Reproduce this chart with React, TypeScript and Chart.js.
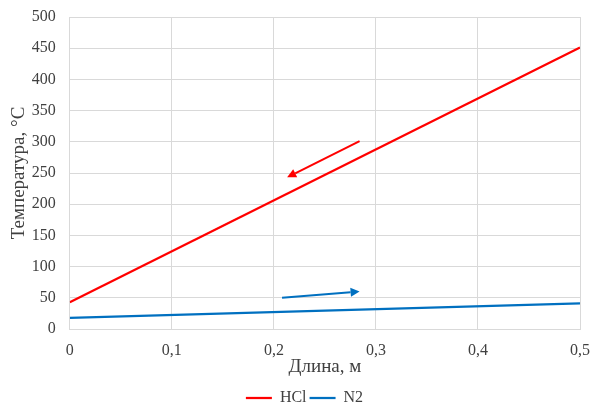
import React, { useEffect, useRef } from "react";
import { Chart, registerables } from "chart.js";

Chart.register(...registerables);

const xValues = [0, 0.5];
const hclValues = [43, 451];
const n2Values = [18, 41];
const seriesNames = ["HCl", "N2"];
const xTickLabelsDecimalSep = ",";
// arrows: [x1, y1, x2, y2] from tail to head, in data units
const hclArrow = [0.284, 301, 0.213, 243];
const n2Arrow = [0.208, 50, 0.284, 60];

const RED = "#ff0000";
const BLUE = "#0070c0";
const TXT = "#404040";
const FONT = "'Liberation Serif', 'Times New Roman', serif";

const arrowPlugin = {
  id: "arrows",
  afterDatasetsDraw(chart: any) {
    const { ctx, scales } = chart;
    const xs = scales.x;
    const ys = scales.y;
    const draw = (a: number[], color: string) => {
      const x1 = xs.getPixelForValue(a[0]);
      const y1 = ys.getPixelForValue(a[1]);
      const x2 = xs.getPixelForValue(a[2]);
      const y2 = ys.getPixelForValue(a[3]);
      const ang = Math.atan2(y2 - y1, x2 - x1);
      const hl = 9;
      const hw = 4.5;
      const bx = x2 - hl * Math.cos(ang);
      const by = y2 - hl * Math.sin(ang);
      ctx.save();
      ctx.strokeStyle = color;
      ctx.fillStyle = color;
      ctx.lineWidth = 2;
      ctx.beginPath();
      ctx.moveTo(x1, y1);
      ctx.lineTo(bx, by);
      ctx.stroke();
      ctx.beginPath();
      ctx.moveTo(x2, y2);
      ctx.lineTo(bx + hw * Math.sin(ang), by - hw * Math.cos(ang));
      ctx.lineTo(bx - hw * Math.sin(ang), by + hw * Math.cos(ang));
      ctx.closePath();
      ctx.fill();
      ctx.restore();
    };
    draw(hclArrow, RED);
    draw(n2Arrow, BLUE);
  },
};

export default function App() {
  const ref = useRef<HTMLCanvasElement>(null);
  useEffect(() => {
    document.body.style.margin = "0";
    const chart = new Chart(ref.current!, {
      type: "scatter",
      data: {
        datasets: [
          {
            label: seriesNames[0],
            data: xValues.map((x, i) => ({ x, y: hclValues[i] })),
            borderColor: RED,
            backgroundColor: RED,
            showLine: true,
            borderWidth: 2.25,
            pointRadius: 0,
          },
          {
            label: seriesNames[1],
            data: xValues.map((x, i) => ({ x, y: n2Values[i] })),
            borderColor: BLUE,
            backgroundColor: BLUE,
            showLine: true,
            borderWidth: 2.25,
            pointRadius: 0,
          },
        ],
      },
      options: {
        animation: false,
        responsive: false,
        layout: { autoPadding: false, padding: { top: 17, right: 12, left: 29, bottom: -13 } },
        plugins: {
          tooltip: { enabled: false },
          legend: {
            position: "bottom",
            labels: {
              usePointStyle: true,
              pointStyle: "line",
              pointStyleWidth: 26,
              color: TXT,
              font: { family: FONT, size: 16 },
              padding: 3,
            },
          },
        },
        scales: {
          x: {
            type: "linear",
            min: 0,
            max: 0.5,
            afterFit: (s: any) => {
              s.paddingRight = 0;
            },
            ticks: {
              stepSize: 0.1,
              color: TXT,
              font: { family: FONT, size: 16 },
              padding: 12,
              callback: (v: any) =>
                String(Math.round(Number(v) * 10) / 10).replace(".", xTickLabelsDecimalSep),
            },
            grid: { color: "#d9d9d9", drawTicks: false },
            border: { color: "#d9d9d9" },
            title: {
              display: true,
              text: "Длина, м",
              color: TXT,
              font: { family: FONT, size: 19 },
              padding: { top: -17, bottom: 9 },
            },
          },
          y: {
            min: 0,
            max: 500,
            afterFit: (s: any) => {
              s.paddingTop = 0;
            },
            ticks: {
              stepSize: 50,
              color: TXT,
              font: { family: FONT, size: 16 },
              padding: 14,
            },
            grid: { color: "#d9d9d9", drawTicks: false },
            border: { color: "#d9d9d9" },
            title: {
              display: true,
              text: "Температура, °C",
              color: TXT,
              font: { family: FONT, size: 19 },
              padding: { top: -21, bottom: -13 },
            },
          },
        },
      },
      plugins: [arrowPlugin],
    } as any);
    return () => chart.destroy();
  }, []);
  return (
    <div style={{ position: "absolute", left: 0, top: 0, width: 592, height: 403, background: "#fff" }}>
      <canvas ref={ref} width={592} height={403} />
    </div>
  );
}
